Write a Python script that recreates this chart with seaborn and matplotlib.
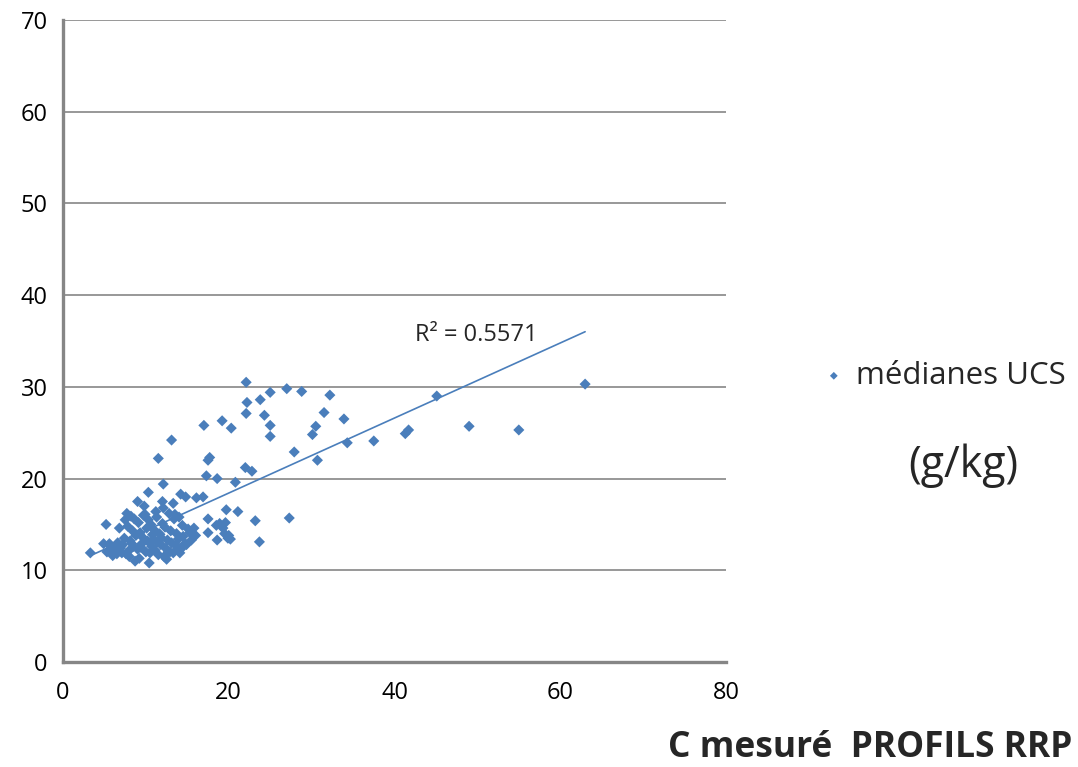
"""Scatter of UCS medians vs measured C (RRP profiles) with linear trend."""

import matplotlib
matplotlib.use("Agg")
import matplotlib.pyplot as plt
import numpy as np
import pandas as pd
import seaborn as sns

# measured C (x) and UCS medians (y), g/kg
c_mesure = [
    3.3, 5.2, 17.0, 19.2, 20.3, 13.1, 11.5, 17.7, 17.5, 17.3, 18.6, 20.8, 12.1,
    10.3, 9.0, 12.0, 13.3, 14.2, 14.8, 16.1, 16.9, 19.7, 21.1, 17.5, 18.5, 18.9,
    17.5, 19.5, 19.9, 18.6, 22.1, 27.0, 28.8, 32.2, 25.0, 23.8, 22.2, 22.1, 24.3,
    25.0, 25.0, 31.5, 33.9, 30.5, 30.1, 27.9, 30.7, 34.3, 37.5, 22.0, 22.8, 23.2,
    27.3, 23.7, 19.3, 20.0, 19.6, 20.2, 41.7, 41.3, 45.1, 49.0, 55.0, 63.0,
    4.9, 5.3, 5.8, 6.2, 6.5, 6.6, 6.9, 7.1, 7.2, 7.4, 7.5, 7.7, 7.8, 7.9, 8.0,
    8.1, 8.2, 8.4, 8.5, 8.7, 8.8, 9.0, 9.1, 9.2, 9.3, 9.5, 9.6, 9.7, 9.9, 10.0,
    10.1, 10.2, 10.4, 10.5, 10.6, 10.7, 10.8, 11.0, 11.1, 11.3, 11.4, 11.5, 11.6,
    11.8, 11.9, 12.0, 12.2, 12.3, 12.4, 12.6, 12.8, 12.9, 13.0, 13.1, 13.3, 13.4,
    13.5, 13.6, 13.7, 13.9, 14.0, 14.2, 14.4, 14.5, 14.7, 14.9, 15.1, 15.3, 15.5,
    15.8, 16.0, 6.0, 7.0, 8.3, 9.4, 10.9, 11.7, 12.7, 13.8, 6.8, 8.6, 10.3, 11.2,
    12.1, 9.8, 5.6, 7.6, 12.5, 14.1,
]
medianes_ucs = [
    11.9, 15.0, 25.8, 26.3, 25.5, 24.2, 22.2, 22.3, 22.0, 20.3, 20.0, 19.6, 19.4,
    18.5, 17.5, 17.5, 17.3, 18.3, 18.0, 17.9, 18.0, 16.6, 16.4, 15.6, 14.9, 15.1,
    14.1, 14.0, 13.5, 13.3, 30.5, 29.8, 29.5, 29.1, 29.4, 28.6, 28.3, 27.1, 26.9,
    25.8, 24.6, 27.2, 26.5, 25.7, 24.8, 22.9, 22.0, 23.9, 24.1, 21.2, 20.8, 15.4,
    15.7, 13.1, 14.6, 13.8, 15.2, 13.4, 25.3, 24.9, 29.0, 25.7, 25.3, 30.3,
    12.9, 12.0, 12.6, 12.2, 11.8, 13.0, 12.4, 11.9, 12.8, 13.5, 15.5, 16.2, 14.8,
    12.1, 11.5, 13.2, 15.9, 14.3, 12.6, 11.0, 13.8, 12.3, 15.2, 11.3, 14.1, 12.9,
    13.6, 16.0, 16.1, 12.0, 14.6, 13.2, 10.8, 11.9, 15.0, 12.6, 13.9, 14.4, 12.2,
    15.8, 13.1, 11.7, 14.0, 12.8, 13.5, 15.1, 11.5, 14.7, 12.4, 13.3, 16.2, 12.0,
    14.3, 13.0, 11.9, 15.6, 16.1, 12.7, 14.0, 13.4, 15.8, 12.3, 14.9, 13.7, 12.9,
    12.8, 14.5, 14.1, 13.3, 14.6, 13.8, 11.6, 12.6, 12.9, 12.5, 13.4, 13.9, 12.1,
    12.6, 14.6, 15.6, 15.5, 16.4, 16.8, 17.0, 12.9, 11.8, 11.2, 11.9,
]
x_ticks = [0, 20, 40, 60, 80]
y_ticks = [0, 10, 20, 30, 40, 50, 60, 70]

blue = "#4a7ebb"
grey = "#868686"

sns.set_style("white")
plt.rcParams["font.family"] = ["Open Sans", "DejaVu Sans"]

df = pd.DataFrame({"c": c_mesure, "ucs": medianes_ucs})

fig = plt.figure(figsize=(10.78, 7.67), dpi=100)
ax = fig.add_axes([63 / 1078, 1 - 662 / 767, (726 - 63) / 1078, (662 - 20) / 767])

sns.regplot(data=df, x="c", y="ucs", scatter=False, ci=None, ax=ax,
            line_kws={"color": blue, "lw": 1.2})
sns.scatterplot(data=df, x="c", y="ucs", marker="D", s=32, color=blue,
                edgecolor="none", ax=ax, label="médianes UCS", legend=False, zorder=3)

ax.set_xlim(0, 80)
ax.set_ylim(0, 70)
ax.set_xticks(x_ticks)
ax.set_yticks(y_ticks)
ax.set_xlabel("")
ax.set_ylabel("")
ax.yaxis.grid(True, color=grey, lw=1.2)
ax.xaxis.grid(False)
ax.set_axisbelow(True)
for side in ("top", "right"):
    ax.spines[side].set_visible(False)
for side in ("left", "bottom"):
    ax.spines[side].set_color(grey)
    ax.spines[side].set_linewidth(2.4)
ax.tick_params(axis="both", direction="out", length=5, width=2.4, color=grey,
               labelsize=17, labelcolor="black")
ax.tick_params(axis="y", pad=6)
ax.tick_params(axis="x", pad=9)

ax.text(42.5, 35.7, "R² = 0.5571", fontsize=17, ha="left", va="center")

handles, labels = ax.get_legend_handles_labels()
fig.legend(handles, labels, loc="center left", bbox_to_anchor=(826 / 1078, 1 - 376 / 767),
           frameon=False, fontsize=22.5, handlelength=0.5, handletextpad=0.45,
           markerscale=0.7, borderpad=0, borderaxespad=0)
fig.text(963 / 1078, 1 - 466 / 767, "(g/kg)", fontsize=31, ha="center", va="center")
fig.text(1072 / 1078, 1 - 748 / 767, "C mesuré  PROFILS RRP", fontsize=25.5,
         fontweight="bold", ha="right", va="center")

fig.savefig("out.png", dpi=100)
